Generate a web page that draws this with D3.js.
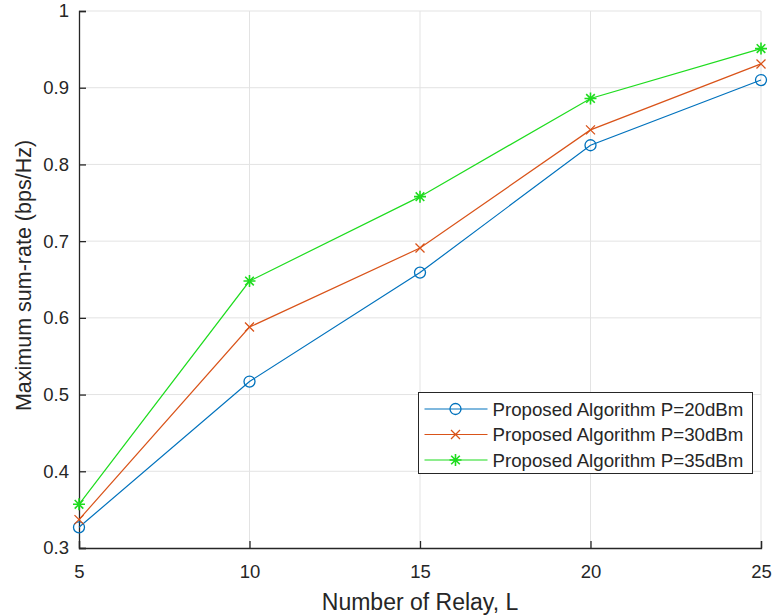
<!DOCTYPE html>
<html>
<head>
<meta charset="utf-8">
<script src="https://cdn.jsdelivr.net/npm/d3@7"></script>
<style>
  html, body { margin: 0; padding: 0; background: #fff; }
  svg { display: block; font-family: "Liberation Sans", Arial, sans-serif; }
</style>
</head>
<body>
<div id="chart"></div>
<script>
// Données du graphique
const relays = [5, 10, 15, 20, 25];
const rateP20 = [0.327, 0.517, 0.659, 0.825, 0.910];
const rateP30 = [0.337, 0.588, 0.691, 0.845, 0.931];
const rateP35 = [0.357, 0.648, 0.758, 0.886, 0.951];
const seriesNames = ["Proposed Algorithm P=20dBm", "Proposed Algorithm P=30dBm", "Proposed Algorithm P=35dBm"];
const xTicks = [5, 10, 15, 20, 25];
const yTicks = [0.3, 0.4, 0.5, 0.6, 0.7, 0.8, 0.9, 1];

const W = 774, H = 615;
const margin = { top: 11, right: 13, bottom: 67, left: 79 };
const iw = W - margin.left - margin.right;
const ih = H - margin.top - margin.bottom;

const textColor = "#262626";
const series = [
  { name: seriesNames[0], values: rateP20, color: "#0072BD", marker: "circle" },
  { name: seriesNames[1], values: rateP30, color: "#D95319", marker: "cross" },
  { name: seriesNames[2], values: rateP35, color: "#1fdc1f", marker: "star" }
];

const svg = d3.select("#chart").append("svg")
  .attr("width", W)
  .attr("height", H);

const g = svg.append("g").attr("transform", `translate(${margin.left},${margin.top})`);

const x = d3.scaleLinear().domain([5, 25]).range([0, iw]);
const y = d3.scaleLinear().domain([0.3, 1]).range([ih, 0]);

// Grille
g.append("g").selectAll("line").data(xTicks.slice(1)).join("line")
  .attr("x1", d => x(d)).attr("x2", d => x(d))
  .attr("y1", 0).attr("y2", ih)
  .attr("stroke", "#e3e3e3").attr("stroke-width", 1);
g.append("g").selectAll("line").data(yTicks.slice(1)).join("line")
  .attr("x1", 0).attr("x2", iw)
  .attr("y1", d => y(d)).attr("y2", d => y(d))
  .attr("stroke", "#e3e3e3").attr("stroke-width", 1);

// Axes (ticks vers l'intérieur, style MATLAB)
const xAxis = g.append("g")
  .attr("transform", `translate(0,${ih})`)
  .call(d3.axisBottom(x).tickValues(xTicks).tickSize(-7).tickPadding(24).tickFormat(d3.format("d")));
const yAxis = g.append("g")
  .call(d3.axisLeft(y).tickValues(yTicks).tickSize(-7).tickPadding(10).tickFormat(d => d === 1 ? "1" : d3.format(".1f")(d)));

[xAxis, yAxis].forEach(a => {
  a.select(".domain").attr("stroke", textColor).attr("stroke-width", 1.3);
  a.selectAll(".tick line").attr("stroke", textColor).attr("stroke-width", 1.3);
  a.selectAll(".tick text").attr("fill", textColor).attr("font-size", 18.5)
    .attr("font-family", "Liberation Sans, Arial, sans-serif");
});
xAxis.selectAll(".tick text").attr("dy", "0.32em");

// Titres des axes
svg.append("text")
  .attr("x", margin.left + iw / 2)
  .attr("y", 610)
  .attr("text-anchor", "middle")
  .attr("fill", textColor)
  .attr("font-size", 23)
  .text("Number of Relay, L");

svg.append("text")
  .attr("transform", `translate(31,${margin.top + ih / 2 - 4}) rotate(-90)`)
  .attr("text-anchor", "middle")
  .attr("fill", textColor)
  .attr("font-size", 21.5)
  .text("Maximum sum-rate (bps/Hz)");

// Marqueurs
function drawMarker(sel, type, color) {
  if (type === "circle") {
    sel.append("circle").attr("r", 5.5).attr("fill", "none").attr("stroke", color).attr("stroke-width", 1.3);
  } else if (type === "cross") {
    const s = 4.5;
    sel.append("path").attr("d", `M${-s},${-s}L${s},${s}M${-s},${s}L${s},${-s}`)
      .attr("stroke", color).attr("stroke-width", 1.3).attr("fill", "none");
  } else {
    const s = 6, d = 4.3;
    sel.append("path").attr("d", `M0,${-s}L0,${s}M${-s},0L${s},0M${-d},${-d}L${d},${d}M${-d},${d}L${d},${-d}`)
      .attr("stroke", color).attr("stroke-width", 1.6).attr("fill", "none");
  }
}

const line = d3.line().x((d, i) => x(relays[i])).y(d => y(d));

series.forEach(s => {
  g.append("path")
    .datum(s.values)
    .attr("d", line)
    .attr("fill", "none")
    .attr("stroke", s.color)
    .attr("stroke-width", 1.2);
  g.append("g").selectAll("g").data(s.values).join("g")
    .attr("transform", (d, i) => `translate(${x(relays[i])},${y(d)})`)
    .each(function () { drawMarker(d3.select(this), s.marker, s.color); });
});

// Légende
const legend = svg.append("g").attr("transform", "translate(418.5,392.5)");
legend.append("rect")
  .attr("width", 334).attr("height", 81)
  .attr("fill", "#fff").attr("stroke", textColor).attr("stroke-width", 1);

series.forEach((s, i) => {
  const row = legend.append("g").attr("transform", `translate(0,${16.5 + i * 25.5})`);
  row.append("line").attr("x1", 6).attr("x2", 69).attr("y1", 0).attr("y2", 0)
    .attr("stroke", s.color).attr("stroke-width", 1.2);
  drawMarker(row.append("g").attr("transform", "translate(37,0)"), s.marker, s.color);
  row.append("text")
    .attr("x", 74).attr("y", 0).attr("dy", "0.35em")
    .attr("fill", textColor).attr("font-size", 18.7)
    .text(s.name);
});
</script>
</body>
</html>
